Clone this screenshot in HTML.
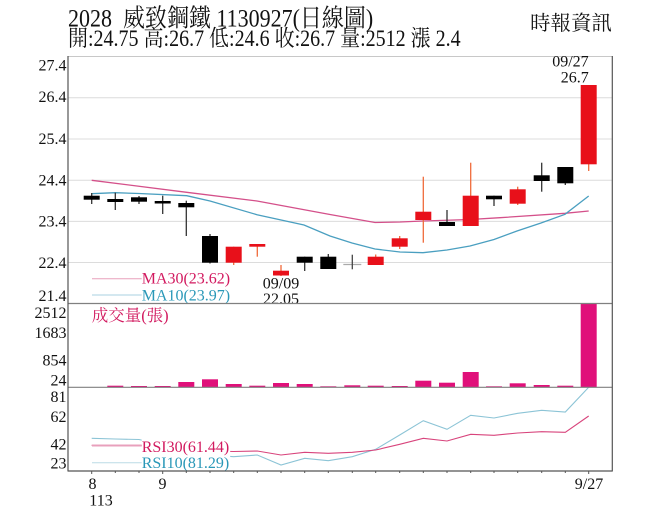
<!DOCTYPE html>
<html><head><meta charset="utf-8"><style>
html,body{margin:0;padding:0;background:#fff;}
svg{display:block;}
text{font-family:"Liberation Serif","Noto Serif CJK TC","Noto Serif CJK SC",serif;}
</style></head><body>
<svg width="656" height="525" viewBox="0 0 656 525" xmlns="http://www.w3.org/2000/svg">
<rect width="656" height="525" fill="#fff"/>
<!-- header -->
<text transform="translate(68,26.5) scale(1,1.14)" x="0" y="0" font-size="22" fill="#111" xml:space="preserve">2028  威致鋼鐵 1130927(日線圖)</text>
<text transform="translate(68,46) scale(1,1.14)" x="0" y="0" font-size="20" fill="#111">開:24.75 高:26.7 低:24.6 收:26.7 量:2512 漲 2.4</text>
<text x="530" y="30" font-size="20.5" fill="#111">時報資訊</text>

<!-- grid -->
<g stroke="#dcdcdc" stroke-width="1">
<line x1="68" y1="97.7" x2="612" y2="97.7"/>
<line x1="68" y1="139" x2="612" y2="139"/>
<line x1="68" y1="180.2" x2="612" y2="180.2"/>
<line x1="68" y1="221.4" x2="612" y2="221.4"/>
<line x1="68" y1="262.5" x2="612" y2="262.5"/>
</g>
<line x1="68" y1="56.5" x2="612" y2="56.5" stroke="#c8c8c8"/>

<!-- y labels -->
<g font-size="16" fill="#111" text-anchor="end">
<text x="66.5" y="70.5">27.4</text>
<text x="66.5" y="102">26.4</text>
<text x="66.5" y="144">25.4</text>
<text x="66.5" y="185.5">24.4</text>
<text x="66.5" y="226.5">23.4</text>
<text x="66.5" y="268">22.4</text>
<text x="66.5" y="301">21.4</text>
<text x="66.5" y="318">2512</text>
<text x="66.5" y="338">1683</text>
<text x="66.5" y="365.5">854</text>
<text x="66.5" y="385.5">24</text>
<text x="66.5" y="402">81</text>
<text x="66.5" y="422">62</text>
<text x="66.5" y="449.5">42</text>
<text x="66.5" y="468.5">23</text>
</g>

<!-- MA lines -->
<polyline fill="none" stroke="#d4508a" stroke-width="1.3" points="91.7,180.3 186.7,192.3 257,201 330,214.5 375,222.5 400,222 423,221 470,219.5 500,217.7 565,213.3 588.7,211"/>
<polyline fill="none" stroke="#4a9fc0" stroke-width="1.3" points="91.7,193.7 115,192.7 139,193.5 186.7,195.7 210,201 257,214.7 304,225 330,236 352,243 375,249 400,252 423,252.7 447,250 470,246 494,239.5 517,231 541,223 565,214.3 588.7,196"/>

<!-- candles -->
<g stroke-width="1.3">
<g stroke="#333" fill="#000">
<line x1="91.7" y1="193" x2="91.7" y2="204"/><rect x="83.7" y="195.7" width="16" height="4" stroke="none"/>
<line x1="115.3" y1="192.7" x2="115.3" y2="210"/><rect x="107.3" y="199" width="16" height="3" stroke="none"/>
<line x1="139" y1="196" x2="139" y2="204"/><rect x="131" y="197.3" width="16" height="4.4" stroke="none"/>
<line x1="162.7" y1="195.7" x2="162.7" y2="214"/><rect x="154.7" y="201" width="16" height="2.5" stroke="none"/>
<line x1="186.3" y1="200.7" x2="186.3" y2="236"/><rect x="178.3" y="203" width="16" height="4.3" stroke="none"/>
<line x1="210" y1="234" x2="210" y2="263.5"/><rect x="202" y="236" width="16" height="26.7" stroke="none"/>
<line x1="304.7" y1="256.7" x2="304.7" y2="271"/><rect x="296.7" y="256.7" width="16" height="6" stroke="none"/>
<line x1="328.3" y1="254" x2="328.3" y2="269"/><rect x="320.3" y="256.7" width="16" height="12.3" stroke="none"/>
<line x1="447" y1="210" x2="447" y2="226"/><rect x="439" y="222" width="16" height="4" stroke="none"/>
<line x1="494" y1="195.7" x2="494" y2="206"/><rect x="486" y="195.7" width="16" height="3.6" stroke="none"/>
<line x1="541.7" y1="162.7" x2="541.7" y2="191.7"/><rect x="533.7" y="175.3" width="16" height="5.7" stroke="none"/>
<line x1="565.3" y1="167" x2="565.3" y2="185"/><rect x="557.3" y="167" width="16" height="16.3" stroke="none"/>
</g>
<line x1="343.3" y1="264.5" x2="361.3" y2="264.5" stroke="#aaa"/>
<line x1="352.3" y1="254.7" x2="352.3" y2="269.3" stroke="#444"/>
<g stroke="#f06a3a" fill="#e8101a">
<line x1="233.7" y1="246.7" x2="233.7" y2="265"/><rect x="225.7" y="246.7" width="16" height="16" stroke="none"/>
<line x1="257.3" y1="244" x2="257.3" y2="256.7"/><rect x="249.3" y="244" width="16" height="2.7" stroke="none"/>
<line x1="281" y1="265" x2="281" y2="276"/><rect x="273" y="270.7" width="16" height="4.8" stroke="none"/>
<line x1="375.7" y1="254.5" x2="375.7" y2="265"/><rect x="367.7" y="256.7" width="16" height="8.3" stroke="none"/>
<line x1="399.7" y1="236" x2="399.7" y2="249"/><rect x="391.7" y="238.3" width="16" height="8.4" stroke="none"/>
<line x1="423.3" y1="176.7" x2="423.3" y2="242.7"/><rect x="415.3" y="211.7" width="16" height="8.3" stroke="none"/>
<line x1="470.7" y1="162.7" x2="470.7" y2="226"/><rect x="462.7" y="195.7" width="16" height="30.3" stroke="none"/>
<line x1="517.7" y1="186.7" x2="517.7" y2="205"/><rect x="509.7" y="189.3" width="16" height="14.4" stroke="none"/>
<line x1="588.7" y1="85" x2="588.7" y2="171"/><rect x="580.7" y="85" width="16" height="79.3" stroke="none"/>
</g>
</g>

<!-- annotations -->
<g font-size="16" fill="#111">
<text x="588.7" y="66.5" text-anchor="end">09/27</text>
<text x="588.7" y="82.5" text-anchor="end">26.7</text>
<text x="281" y="288.5" text-anchor="middle">09/09</text>
<text x="281" y="304" text-anchor="middle">22.05</text>
</g>

<!-- MA legend -->
<line x1="92" y1="278.7" x2="141.7" y2="278.7" stroke="#e8a0bc" stroke-width="1"/>
<line x1="92" y1="295" x2="141.7" y2="295" stroke="#a8d0e0" stroke-width="1"/>
<text x="141.7" y="283.5" font-size="16" fill="#d2195f">MA30(23.62)</text>
<text x="141.7" y="300.5" font-size="16" fill="#2a98b8">MA10(23.97)</text>

<!-- volume -->
<text x="91.7" y="321" font-size="16.5" fill="#d2195f">成交量(張)</text>
<g fill="#e0107a">
<rect x="107.3" y="385.7" width="16" height="1.6"/>
<rect x="131" y="386" width="16" height="1.3"/>
<rect x="154.7" y="386" width="16" height="1.3"/>
<rect x="178.3" y="382" width="16" height="5.3"/>
<rect x="202" y="379.3" width="16" height="8"/>
<rect x="225.7" y="384" width="16" height="3.3"/>
<rect x="249.3" y="385.7" width="16" height="1.6"/>
<rect x="273" y="383" width="16" height="4.3"/>
<rect x="296.7" y="384" width="16" height="3.3"/>
<rect x="320.3" y="386.3" width="16" height="1"/>
<rect x="344.3" y="385.3" width="16" height="2"/>
<rect x="367.7" y="385.7" width="16" height="1.6"/>
<rect x="391.7" y="386" width="16" height="1.3"/>
<rect x="415.3" y="380.7" width="16" height="6.6"/>
<rect x="439" y="382.7" width="16" height="4.6"/>
<rect x="462.7" y="372" width="16" height="15.3"/>
<rect x="486" y="386.3" width="16" height="1"/>
<rect x="509.7" y="383.3" width="16" height="4"/>
<rect x="533.7" y="385" width="16" height="2.3"/>
<rect x="557.3" y="385.7" width="16" height="1.6"/>
<rect x="580.7" y="303.3" width="16" height="84"/>
</g>

<!-- RSI -->
<polyline fill="none" stroke="#8cc4d6" stroke-width="1.1" points="91.7,438.3 115.3,439 139,439.5 162.7,445 186.3,450 210,455 233.7,456.7 257.3,455 281,465 304.7,458.3 328.3,460.7 352.3,456.7 375.7,449.3 399.7,435 423.3,420.7 447,429.3 470.7,415.3 494,418 517.7,413.3 541.7,410.3 565.3,412 588.7,387.3"/>
<polyline fill="none" stroke="#d8447c" stroke-width="1.1" points="91.7,445.3 115.3,445.3 139,445.3 162.7,447 186.3,449 210,451 233.7,451.5 257.3,451 281,455 304.7,452.3 328.3,453.3 352.3,452.3 375.7,450 399.7,444.3 423.3,438.3 447,441 470.7,434.3 494,435.3 517.7,433 541.7,431.7 565.3,432.3 588.7,416"/>
<rect x="141.7" y="437" width="88.5" height="33" fill="#fff"/>
<line x1="92" y1="445.5" x2="141.7" y2="445.5" stroke="#e8a0bc" stroke-width="2"/>
<line x1="92" y1="462.7" x2="141.7" y2="462.7" stroke="#bcdbe6" stroke-width="1"/>
<text x="141.7" y="452" font-size="16" fill="#d2195f">RSI30(61.44)</text>
<text x="141.7" y="468" font-size="16" fill="#2a98b8">RSI10(81.29)</text>

<!-- frame -->
<g stroke="#808080" stroke-width="1.2">
<line x1="68" y1="303.5" x2="612.3" y2="303.5"/>
<line x1="68" y1="387.3" x2="612.3" y2="387.3"/>
</g>
<g stroke="#555" stroke-width="1.2">
<line x1="68" y1="56" x2="68" y2="471.5"/>
<line x1="612.3" y1="56" x2="612.3" y2="471.5"/>
<line x1="68" y1="471" x2="612.3" y2="471"/>
</g>
<g stroke="#555" stroke-width="1">
<line x1="91.7" y1="471" x2="91.7" y2="474"/><line x1="115.3" y1="471" x2="115.3" y2="473"/><line x1="139" y1="471" x2="139" y2="473"/><line x1="162.7" y1="471" x2="162.7" y2="474"/><line x1="186.3" y1="471" x2="186.3" y2="473"/><line x1="210" y1="471" x2="210" y2="473"/><line x1="233.7" y1="471" x2="233.7" y2="473"/><line x1="257.3" y1="471" x2="257.3" y2="473"/><line x1="281" y1="471" x2="281" y2="473"/><line x1="304.7" y1="471" x2="304.7" y2="473"/><line x1="328.3" y1="471" x2="328.3" y2="473"/><line x1="352.3" y1="471" x2="352.3" y2="473"/><line x1="375.7" y1="471" x2="375.7" y2="473"/><line x1="399.7" y1="471" x2="399.7" y2="473"/><line x1="423.3" y1="471" x2="423.3" y2="473"/><line x1="447" y1="471" x2="447" y2="473"/><line x1="470.7" y1="471" x2="470.7" y2="473"/><line x1="494" y1="471" x2="494" y2="473"/><line x1="517.7" y1="471" x2="517.7" y2="473"/><line x1="541.7" y1="471" x2="541.7" y2="473"/><line x1="565.3" y1="471" x2="565.3" y2="473"/><line x1="588.7" y1="471" x2="588.7" y2="474"/>
</g>
<g font-size="16" fill="#111">
<text x="92.5" y="489" text-anchor="middle">8</text>
<text x="89.3" y="505.5">113</text>
<text x="162.5" y="489" text-anchor="middle">9</text>
<text x="589" y="489" text-anchor="middle">9/27</text>
</g>
</svg>
</body></html>
